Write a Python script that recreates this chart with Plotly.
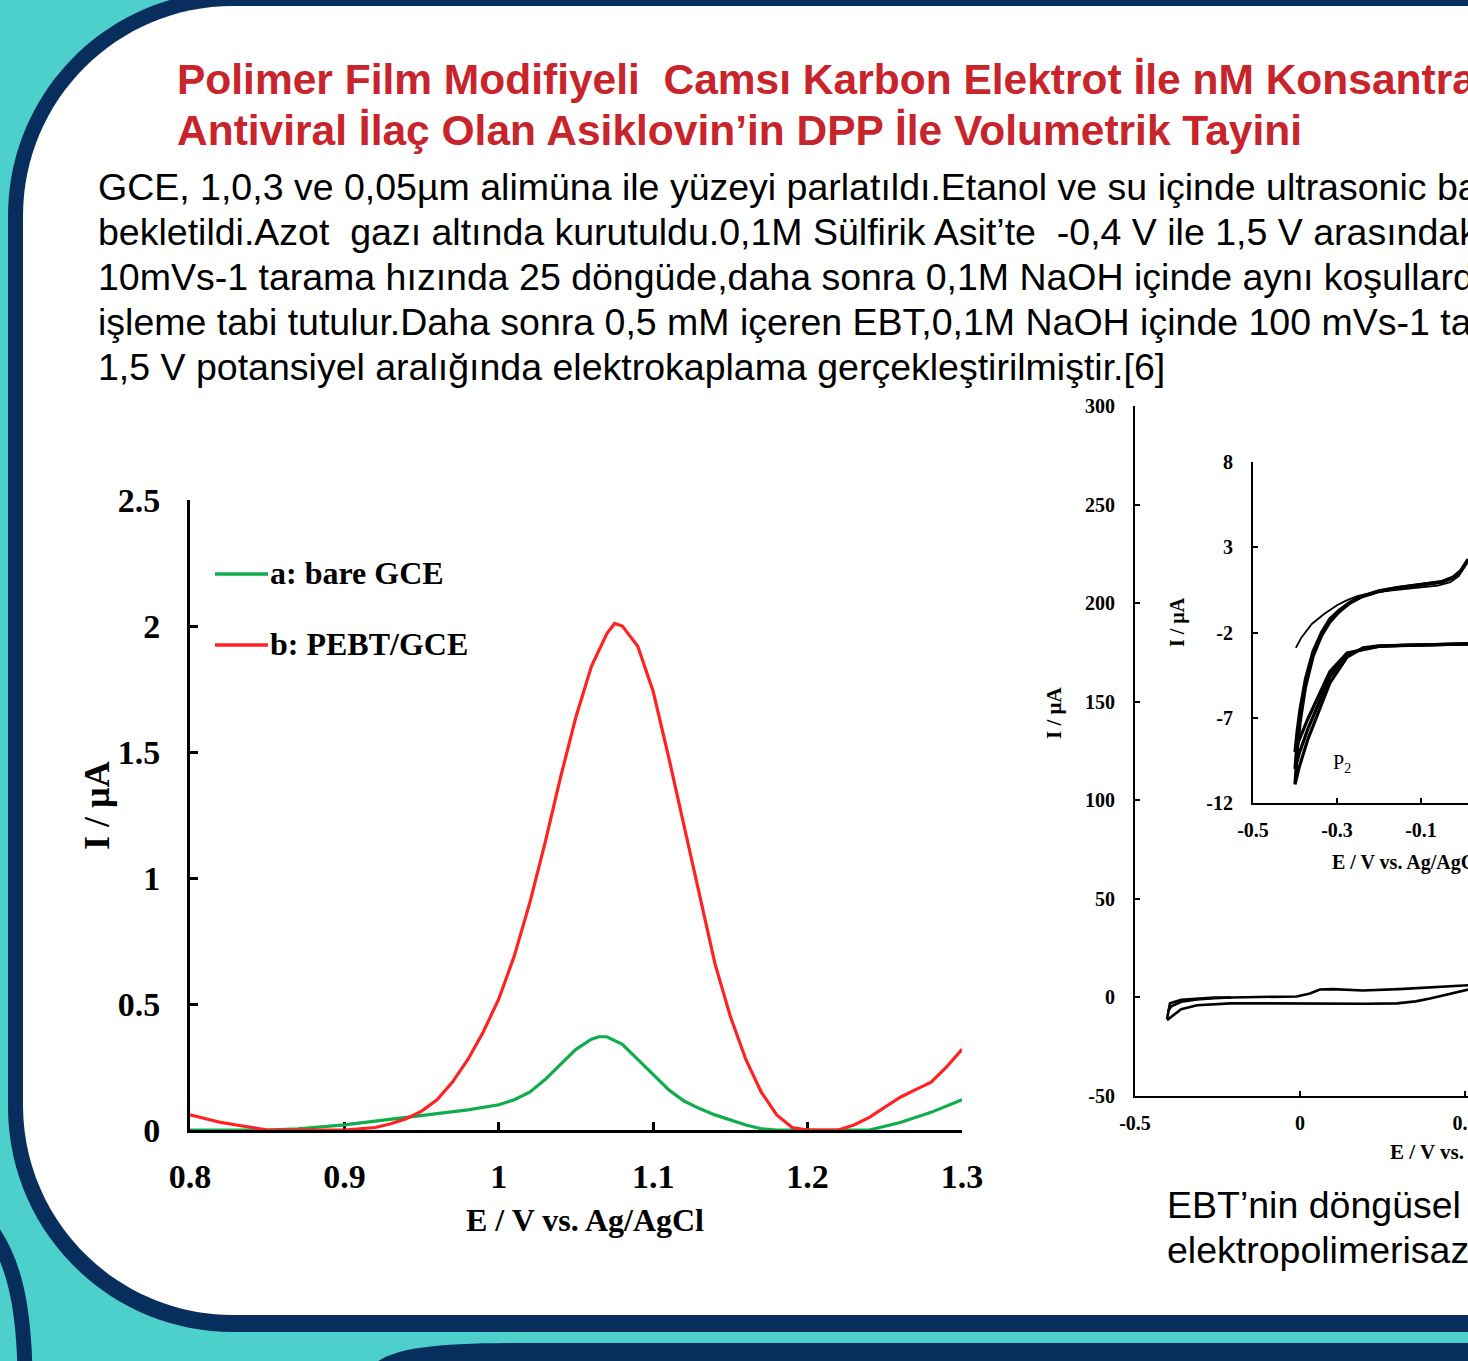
import plotly.graph_objects as go

W, H = 1468, 1361

# ---------------- data ----------------
# DPV (left chart)
dpv_E_a = [0.80, 0.85, 0.87, 0.89, 0.90, 0.92, 0.94, 0.96, 0.98, 1.00, 1.01, 1.02, 1.03, 1.04, 1.05,
           1.06, 1.065, 1.07, 1.08, 1.09, 1.10, 1.11, 1.12, 1.13, 1.14, 1.15, 1.16, 1.17, 1.18, 1.24,
           1.26, 1.28, 1.30]
dpv_I_a = [0.0, 0.0, 0.005, 0.015, 0.02, 0.035, 0.05, 0.065, 0.08, 0.10, 0.12, 0.15, 0.20, 0.26, 0.32,
           0.36, 0.37, 0.37, 0.34, 0.28, 0.22, 0.16, 0.115, 0.085, 0.06, 0.04, 0.02, 0.005, 0.0, 0.0,
           0.03, 0.07, 0.12]
dpv_E_b = [0.80, 0.81, 0.82, 0.83, 0.84, 0.85, 0.87, 0.90, 0.92, 0.93, 0.94, 0.95, 0.96, 0.97, 0.98,
           0.99, 1.00, 1.01, 1.02, 1.03, 1.04, 1.05, 1.06, 1.07, 1.075, 1.08, 1.09, 1.10, 1.11, 1.12,
           1.13, 1.14, 1.15, 1.16, 1.17, 1.18, 1.19, 1.20, 1.22, 1.23, 1.24, 1.25, 1.26, 1.27, 1.28,
           1.29, 1.30]
dpv_I_b = [0.06, 0.045, 0.03, 0.02, 0.01, 0.0, 0.0, 0.0, 0.01, 0.025, 0.045, 0.075, 0.12, 0.19, 0.28,
           0.39, 0.52, 0.69, 0.90, 1.14, 1.40, 1.64, 1.84, 1.97, 2.01, 2.00, 1.92, 1.74, 1.48, 1.21,
           0.94, 0.66, 0.45, 0.28, 0.15, 0.06, 0.01, 0.0, 0.0, 0.02, 0.05, 0.09, 0.13, 0.16, 0.19,
           0.25, 0.32]
dpv_xticks = [0.8, 0.9, 1.0, 1.1, 1.2, 1.3]
dpv_xtext = ["0.8", "0.9", "1", "1.1", "1.2", "1.3"]
dpv_yticks = [0, 0.5, 1, 1.5, 2, 2.5]
dpv_ytext = ["0", "0.5", "1", "1.5", "2", "2.5"]
legend_names = ["a: bare GCE", "b: PEBT/GCE"]

# CV main (right chart, visible part)
cv_up_E = [-0.403, -0.394, -0.36, -0.312, -0.26, -0.21, -0.10, -0.01, 0.03, 0.06, 0.10, 0.19, 0.30, 0.394, 0.45, 0.51]
cv_up_I = [-11.0, -3.0, -1.2, -0.5, -0.1, 0.0, 0.2, 0.5, 2.0, 4.0, 4.2, 3.5, 4.2, 5.0, 5.5, 6.2]
cv_lo_E = [0.51, 0.45, 0.394, 0.35, 0.294, 0.20, 0.09, 0.0, -0.10, -0.21, -0.312, -0.36, -0.394, -0.403]
cv_lo_I = [4.0, 1.5, -0.5, -2.0, -3.0, -3.2, -3.0, -3.0, -3.0, -3.0, -4.0, -6.0, -10.6, -11.5]
cv_up2_E = [-0.40, -0.39, -0.36, -0.312, -0.26, -0.21]
cv_up2_I = [-7.0, -4.5, -2.2, -1.0, -0.4, 0.0]
cv_yticks = [-50, 0, 50, 100, 150, 200, 250, 300]
cv_ytext = ["-50", "0", "50", "100", "150", "200", "250", "300"]
cv_xticks = [-0.5, 0, 0.5]
cv_xtext = ["-0.5", "0", "0.5"]

# CV inset
ins_first_E = [-0.398, -0.385, -0.36, -0.33, -0.30, -0.276, -0.25, -0.22, -0.18, -0.14, -0.10, -0.06, -0.03, -0.01, 0.0, 0.012]
ins_first_I = [-2.9, -2.3, -1.5, -0.9, -0.4, -0.1, 0.15, 0.30, 0.45, 0.55, 0.62, 0.75, 0.95, 1.30, 1.70, 2.30]
ins_lo_E = [0.012, -0.05, -0.10, -0.15, -0.20, -0.238, -0.276, -0.317, -0.348, -0.37, -0.39, -0.40]
ins_lo_I1 = [-2.67, -2.70, -2.72, -2.73, -2.78, -2.90, -3.45, -4.96, -6.95, -8.30, -9.90, -10.9]
ins_lo_I2 = [-2.67, -2.70, -2.72, -2.75, -2.80, -2.95, -3.30, -4.60, -6.40, -7.70, -9.10, -10.0]
ins_lo_I3 = [-2.67, -2.70, -2.72, -2.75, -2.82, -3.00, -3.20, -4.30, -5.90, -7.10, -8.30, -9.0]
ins_up_E = [-0.40, -0.395, -0.388, -0.375, -0.357, -0.337, -0.317, -0.295, -0.269, -0.24, -0.20, -0.157, -0.10, -0.05, -0.024, -0.005, 0.012]
ins_up_I1 = [-10.9, -9.0, -7.3, -5.2, -3.4, -2.2, -1.4, -0.8, -0.27, 0.10, 0.40, 0.60, 0.80, 0.95, 1.20, 1.60, 2.20]
ins_up_I2 = [-10.0, -8.4, -6.9, -5.0, -3.3, -2.1, -1.3, -0.75, -0.25, 0.12, 0.42, 0.62, 0.82, 0.97, 1.22, 1.62, 2.25]
ins_up_I3 = [-9.0, -7.8, -6.5, -4.7, -3.1, -2.0, -1.2, -0.70, -0.22, 0.14, 0.44, 0.64, 0.84, 0.99, 1.24, 1.64, 2.30]
ins_yticks = [-12, -7, -2, 3, 8]
ins_ytext = ["-12", "-7", "-2", "3", "8"]
ins_xticks = [-0.5, -0.3, -0.1]
ins_xtext = ["-0.5", "-0.3", "-0.1"]

title_lines = ["Polimer Film Modifiyeli  Camsı Karbon Elektrot İle nM Konsantra",
               "Antiviral İlaç Olan Asiklovin’in DPP İle Volumetrik Tayini"]
body_lines = ["GCE, 1,0,3 ve 0,05µm alimüna ile yüzeyi parlatıldı.Etanol ve su içinde ultrasonic ba",
              "bekletildi.Azot  gazı altında kurutuldu.0,1M Sülfirik Asit’te  -0,4 V ile 1,5 V arasındak",
              "10mVs-1 tarama hızında 25 döngüde,daha sonra 0,1M NaOH içinde aynı koşullard",
              "işleme tabi tutulur.Daha sonra 0,5 mM içeren EBT,0,1M NaOH içinde 100 mVs-1 ta",
              "1,5 V potansiyel aralığında elektrokaplama gerçekleştirilmiştir.[6]"]
caption_lines = ["EBT’nin döngüsel", "elektropolimerisaz"]

# ---------------- styles ----------------
TEAL = "#4DD0CC"
NAVY = "#082E5E"
RED_T = "#C8242B"
GREEN = "#10AD4C"
RED = "#FF2222"
SANS = "Liberation Sans, Arial, sans-serif"
SERIF = "Liberation Serif, Times New Roman, serif"


def px(x):
    return x / W


def py(y):
    return 1 - y / H


def path(cmds, close=True):
    out = []
    for c in cmds:
        op, vals = c[0], c[1:]
        pts = []
        for i in range(0, len(vals), 2):
            pts.append(f"{px(vals[i]):.5f},{py(vals[i+1]):.5f}")
        out.append(op + " " + " ".join(pts))
    return " ".join(out) + (" Z" if close else "")


def rrect(l, t, r, b, R):
    k = 0.5523 * R
    return path([
        ("M", l + R, t), ("L", r - R, t), ("C", r - R + k, t, r, t + R - k, r, t + R),
        ("L", r, b - R), ("C", r, b - R + k, r - R + k, b, r - R, b),
        ("L", l + R, b), ("C", l + R - k, b, l, b - R + k, l, b - R),
        ("L", l, t + R), ("C", l, t + R - k, l + R - k, t, l + R, t),
    ])


fig = go.Figure()

# DPV traces
fig.add_trace(go.Scatter(x=dpv_E_a, y=dpv_I_a, mode="lines", line=dict(color=GREEN, width=3.2),
                         name=legend_names[0], showlegend=False, xaxis="x", yaxis="y"))
fig.add_trace(go.Scatter(x=dpv_E_b, y=dpv_I_b, mode="lines", line=dict(color=RED, width=3.2),
                         name=legend_names[1], showlegend=False, xaxis="x", yaxis="y"))

# CV main traces
for ex, iy in [(cv_up_E, cv_up_I), (cv_lo_E, cv_lo_I), (cv_up2_E, cv_up2_I)]:
    fig.add_trace(go.Scatter(x=ex, y=iy, mode="lines", line=dict(color="black", width=2.6),
                             showlegend=False, xaxis="x2", yaxis="y2"))

# inset traces
fig.add_trace(go.Scatter(x=ins_first_E, y=ins_first_I, mode="lines", line=dict(color="black", width=1.8),
                         showlegend=False, xaxis="x3", yaxis="y3"))
for lo, up in [(ins_lo_I1, ins_up_I1), (ins_lo_I2, ins_up_I2), (ins_lo_I3, ins_up_I3)]:
    fig.add_trace(go.Scatter(x=ins_lo_E + ins_up_E, y=lo + up, mode="lines",
                             line=dict(color="black", width=3.2),
                             showlegend=False, xaxis="x3", yaxis="y3"))

ax_common = dict(showgrid=False, zeroline=False, showline=True, linecolor="black",
                 ticks="inside", tickcolor="black", layer="below traces", automargin=False,
                 ticklabeloverflow="allow")

fig.update_layout(
    width=W, height=H, margin=dict(l=0, r=0, t=0, b=0, pad=0, autoexpand=False),
    paper_bgcolor=TEAL, plot_bgcolor="rgba(0,0,0,0)",
    xaxis=dict(domain=[px(190), px(962)], range=[0.8, 1.3], anchor="y",
               tickvals=dpv_xticks, ticktext=dpv_xtext, linewidth=3, ticklen=8, tickwidth=2.5,
               tickfont=dict(family=SERIF, size=34, color="black", weight="bold"),
               ticklabelstandoff=14, **ax_common),
    yaxis=dict(domain=[py(1130), py(500)], range=[0, 2.5], anchor="x",
               tickvals=dpv_yticks, ticktext=dpv_ytext, linewidth=3, ticklen=8, tickwidth=2.5,
               tickfont=dict(family=SERIF, size=34, color="black", weight="bold"),
               ticklabelstandoff=20, **ax_common),
    xaxis2=dict(domain=[px(1135), 1], range=[-0.5, 0.509], anchor="y2",
                tickvals=cv_xticks, ticktext=cv_xtext, linewidth=2.2, ticklen=5, tickwidth=2,
                tickfont=dict(family=SERIF, size=20, color="black", weight="bold"),
                ticklabelstandoff=8, **ax_common),
    yaxis2=dict(domain=[py(1096), py(406)], range=[-50, 300], anchor="x2",
                tickvals=cv_yticks, ticktext=cv_ytext, linewidth=2.2, ticklen=5, tickwidth=2,
                tickfont=dict(family=SERIF, size=20, color="black", weight="bold"),
                ticklabelstandoff=14, **ax_common),
    xaxis3=dict(domain=[px(1253), 1], range=[-0.5, 0.0119], anchor="y3",
                tickvals=ins_xticks, ticktext=ins_xtext, linewidth=2.2, ticklen=5, tickwidth=2,
                tickfont=dict(family=SERIF, size=20, color="black", weight="bold"),
                ticklabelstandoff=8, **ax_common),
    yaxis3=dict(domain=[py(803), py(462)], range=[-12, 8], anchor="x3",
                tickvals=ins_yticks, ticktext=ins_ytext, linewidth=2.2, ticklen=5, tickwidth=2,
                tickfont=dict(family=SERIF, size=20, color="black", weight="bold"),
                ticklabelstandoff=14, **ax_common),
)

shapes = [
    dict(type="path", xref="paper", yref="paper", layer="below", line=dict(width=0),
         fillcolor=NAVY, path=rrect(8, -9, 2000, 1332, 225)),
    dict(type="path", xref="paper", yref="paper", layer="below", line=dict(width=0),
         fillcolor="white", path=rrect(23, 6, 1985, 1315, 210)),
    dict(type="path", xref="paper", yref="paper", layer="below", line=dict(width=0),
         fillcolor=NAVY,
         path=path([("M", 368, 1370), ("C", 385, 1350, 420, 1343, 520, 1343), ("L", 1600, 1343),
                    ("L", 1600, 1370)])),
    dict(type="path", xref="paper", yref="paper", layer="below", line=dict(width=15, color=NAVY),
         path=path([("M", -10, 1228), ("C", 12, 1258, 24, 1300, 25, 1375)], close=False)),
    # legend samples
    dict(type="line", xref="paper", yref="paper", x0=px(215), x1=px(268), y0=py(574), y1=py(574),
         line=dict(color=GREEN, width=3.5)),
    dict(type="line", xref="paper", yref="paper", x0=px(215), x1=px(268), y0=py(645), y1=py(645),
         line=dict(color=RED, width=3.5)),
]
fig.update_layout(shapes=shapes)

ann = []


def text(t, x, y, size, color="black", family=SANS, bold=False, xanchor="left", angle=0):
    ann.append(dict(text=(f"<b>{t}</b>" if bold else t), x=px(x), y=py(y), xref="paper", yref="paper",
                    xanchor=xanchor, yanchor="middle", showarrow=False, textangle=angle,
                    font=dict(family=family, size=size, color=color)))


text(title_lines[0], 175, 79, 42.5, RED_T, bold=True)
text(title_lines[1], 175, 131, 42.5, RED_T, bold=True)
for i, line in enumerate(body_lines):
    text(line, 96, 187 + 45 * i, 37.5)
text(caption_lines[0], 1165, 1205, 37.5)
text(caption_lines[1], 1165, 1250, 37.5)

# DPV labels
text("E / V vs. Ag/AgCl", 585, 1220, 32, family=SERIF, bold=True, xanchor="center")
text("I / µA", 97, 806, 36, family=SERIF, bold=True, xanchor="center", angle=-90)
text(legend_names[0], 268, 573, 32, family=SERIF, bold=True)
text(legend_names[1], 268, 644, 32, family=SERIF, bold=True)

# CV labels
text("E / V vs. Ag/AgCl", 1388, 1152, 21, family=SERIF, bold=True)
text("I / µA", 1054, 713, 21, family=SERIF, bold=True, xanchor="center", angle=-90)
text("E / V vs. Ag/AgCl", 1330, 862, 20, family=SERIF, bold=True)
text("I / µA", 1177, 622, 20, family=SERIF, bold=True, xanchor="center", angle=-90)
text("P<sub>2</sub>", 1331, 763, 20, family=SERIF)

fig.update_layout(annotations=ann)

fig.write_html("out.html", config={"displayModeBar": False},
               post_script="document.body.style.margin='0';document.body.style.overflow='hidden';"
                           "document.documentElement.style.overflow='hidden';")
